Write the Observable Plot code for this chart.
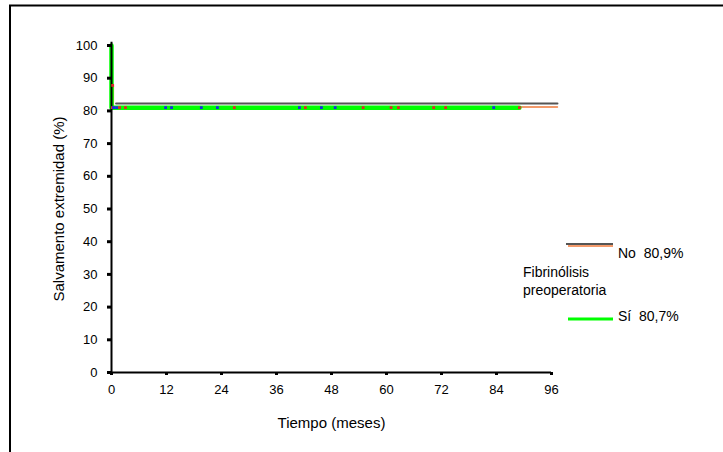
<!DOCTYPE html>
<html>
<head>
<meta charset="utf-8">
<script src="https://cdn.jsdelivr.net/npm/d3@7"></script>
<script src="https://cdn.jsdelivr.net/npm/@observablehq/plot@0.6"></script>
<style>
  html, body { margin: 0; padding: 0; background: white; }
  svg { display: block; }
</style>
</head>
<body>
<div id="chart"></div>
<script>
// Kaplan–Meier style step curves (time in months, survival in %)
const siTimes   = [0, 0, 89];
const siValues  = [100, 81.0, 81.0];
const noTimes   = [0, 0.15, 0.4, 97.3];
const noValues  = [100, 87.8, 81.2, 81.2];
const noUpperTimes  = [1, 97.3];
const noUpperValues = [82.3, 82.3];

// censored observations
const noCensorTimes  = [0.2, 1.75, 3.05, 26.8, 42.3, 54.9, 61.0, 62.6, 70.3, 72.9, 89.0];
const noCensorValues = [81.0, 81.0, 81.0, 81.0, 81.0, 81.0, 81.0, 81.0, 81.0, 81.0, 81.0];
const noCensorEarlyTimes  = [0.25];
const noCensorEarlyValues = [87.8];
const siCensorTimes  = [0.45, 1.1, 11.8, 13.1, 19.6, 23.1, 41.0, 45.8, 48.8, 83.4];
const siCensorValues = [81.0, 81.0, 81.0, 81.0, 81.0, 81.0, 81.0, 81.0, 81.0, 81.0];

const xTicks = [0, 12, 24, 36, 48, 60, 72, 84, 96];
const yTicks = [0, 10, 20, 30, 40, 50, 60, 70, 80, 90, 100];

const legendLabels = ["No  80,9%", "Sí  80,7%"];
const legendTitle = ["Fibrinólisis", "preoperatoria"];

const si = siTimes.map((t, i) => ({t, v: siValues[i]}));
const no = noTimes.map((t, i) => ({t, v: noValues[i]}));
const noUpper = noUpperTimes.map((t, i) => ({t, v: noUpperValues[i]}));
const noCens = noCensorTimes.map((t, i) => ({t, v: noCensorValues[i]}))
  .concat(noCensorEarlyTimes.map((t, i) => ({t, v: noCensorEarlyValues[i]})));
const siCens = siCensorTimes.map((t, i) => ({t, v: siCensorValues[i]}));

const FONT = "'Liberation Sans', Arial, sans-serif";

const chart = Plot.plot({
  width: 723,
  height: 452,
  marginLeft: 111,
  marginRight: 172,
  marginTop: 45,
  marginBottom: 80,
  x: {domain: [0, 96]},
  y: {domain: [0, 100]},
  style: {fontFamily: FONT, fontSize: "13px", background: "white", overflow: "visible"},
  marks: [
    Plot.line(no, {x: "t", y: "v", curve: "step-after", stroke: "#f07a3a", strokeWidth: 1.5, clip: false}),
    Plot.line(noUpper, {x: "t", y: "v", stroke: "#555555", strokeWidth: 2}),
    Plot.line(si, {x: "t", y: "v", curve: "step-after", stroke: "#00ff00", strokeWidth: 4.5}),
    Plot.ruleX([0], {y1: 0, y2: 101, stroke: "black", strokeWidth: 2}),
    Plot.dot(noCens, {x: "t", y: "v", symbol: "square", r: 1.6, fill: "#e02828", stroke: "none"}),
    Plot.dot(siCens, {x: "t", y: "v", symbol: "square", r: 1.6, fill: "#1a2fe0", stroke: "none"}),
    Plot.ruleY([0], {x1: 0, x2: 96, stroke: "black", strokeWidth: 2}),
    Plot.axisY(yTicks, {tickSize: 4, strokeWidth: 3, tickPadding: 10, label: null, fill: "black", fontSize: 13}),
    Plot.axisX(xTicks, {tickSize: 3, strokeWidth: 3, tickPadding: 9, label: null, fill: "black", fontSize: 13}),
    Plot.text(["Salvamento extremidad (%)"], {frameAnchor: "left", textAnchor: "middle", dx: -52, rotate: -90, fontSize: 15, fill: "black"}),
    Plot.text(["Tiempo (meses)"], {frameAnchor: "bottom", dy: 55, fontSize: 15, fill: "black"})
  ]
});

const svg = d3.select(chart);
// outer frame (only top and left are inside the picture)
svg.append("rect")
  .attr("x", 10).attr("y", 5.5).attr("width", 800).attr("height", 600)
  .attr("fill", "none").attr("stroke", "black").attr("stroke-width", 2);

// legend
const lg = svg.append("g")
  .attr("font-family", FONT).attr("font-size", 14)
  .attr("text-anchor", "start").attr("fill", "black");
lg.append("line").attr("x1", 568).attr("x2", 613).attr("y1", 246).attr("y2", 246).attr("stroke", "#f07a3a").attr("stroke-width", 1.5);
lg.append("line").attr("x1", 566).attr("x2", 613).attr("y1", 244).attr("y2", 244).attr("stroke", "#555555").attr("stroke-width", 2);
lg.append("line").attr("x1", 568).attr("x2", 613).attr("y1", 319).attr("y2", 319).attr("stroke", "#00ff00").attr("stroke-width", 3);
lg.append("text").attr("x", 618).attr("y", 258).style("white-space", "pre").text(legendLabels[0]);
lg.append("text").attr("x", 618).attr("y", 321).style("white-space", "pre").text(legendLabels[1]);
lg.append("text").attr("x", 523).attr("y", 277).text(legendTitle[0]);
lg.append("text").attr("x", 523).attr("y", 295).text(legendTitle[1]);

document.getElementById("chart").appendChild(chart);
</script>
</body>
</html>
